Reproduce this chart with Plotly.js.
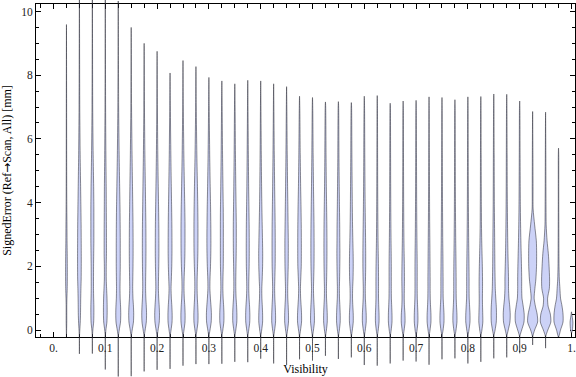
<!DOCTYPE html>
<html><head><meta charset="utf-8">
<script src="https://cdn.plot.ly/plotly-3.0.1.min.js"></script>
<style>html,body{margin:0;padding:0;background:#fff}#chart{width:576px;height:377px}</style>
</head><body><div id="chart"></div>
<script>
// Visibility bin centres
const visibility = [0.025,0.05,0.075,0.1,0.125,0.15,0.175,0.2,0.225,0.25,0.275,0.3,0.325,0.35,0.375,0.4,0.425,0.45,0.475,0.5,0.525,0.55,0.575,0.6,0.625,0.65,0.675,0.7,0.725,0.75,0.775,0.8,0.825,0.85,0.875,0.9,0.925,0.95,0.975,1.0];
// Largest and smallest signed error in each bin [mm]
const errMax = [9.59,10.8,10.8,10.8,10.33,9.5,9.0,8.75,8.07,8.46,8.27,7.93,7.82,7.73,7.84,7.82,7.73,7.64,7.34,7.3,7.16,7.17,7.14,7.34,7.36,7.12,7.19,7.21,7.32,7.3,7.23,7.32,7.33,7.41,7.4,7.19,6.86,6.84,5.71,0.57];
const errMin = [-0.22,-0.75,-0.74,-1.24,-1.46,-1.45,-1.3,-1.25,-1.22,-1.12,-1.07,-1.07,-1.06,-1.0,-1.01,-0.9,-1.05,-1.1,-0.92,-0.96,-0.81,-0.91,-0.86,-1.1,-1.12,-1.05,-0.96,-0.99,-1.09,-0.92,-0.89,-1.05,-1.0,-0.89,-0.86,-0.73,-0.47,-0.57,-0.22,-0.1];
// Density profile levels [mm] and relative density (violin width) at each level
const levels = [-0.2,0,0.25,0.5,0.75,1.0,1.3,1.6,2.0,2.4,2.8,3.3,3.8,4.5,5.5,7.0];
const density = [
 [0.1,0.3,0.6,0.6,0.6,0.9,1.5,1.7,1.7,1.5,1.2,1.0,0.7,0.5,0.4,0.3],
 [0.2,0.8,1.7,2.2,2.4,2.6,3.0,3.5,3.7,3.7,3.6,3.4,3.0,2.4,1.5,0.7],
 [0.2,1.0,2.6,3.0,3.0,2.6,2.3,2.3,2.4,2.7,3.0,3.0,3.0,2.6,1.6,0.7],
 [0.2,1.2,3.2,3.7,3.7,3.4,2.6,1.9,1.9,2.3,2.3,2.2,2.0,1.8,1.2,0.6],
 [0.3,2.0,4.5,5.0,4.6,3.8,3.5,3.7,4.0,4.0,4.0,3.8,3.5,2.8,1.8,0.8],
 [0.3,2.0,4.5,5.0,4.5,3.5,3.0,3.2,3.6,3.8,3.8,3.6,3.2,2.6,1.7,0.7],
 [0.3,2.0,4.3,4.8,4.3,3.4,2.9,3.0,3.4,3.6,3.6,3.4,3.0,2.4,1.5,0.6],
 [0.3,2.0,4.3,4.8,4.2,3.2,2.6,2.8,3.3,3.6,3.6,3.4,3.0,2.3,1.4,0.6],
 [0.3,2.0,4.0,4.2,3.6,2.6,2.0,2.6,3.4,3.8,3.8,3.6,3.2,2.5,1.6,0.6],
 [0.3,2.0,4.0,4.2,3.6,2.6,2.0,2.2,3.2,3.8,4.0,4.0,3.6,2.8,1.7,0.6],
 [0.3,2.0,4.0,4.2,3.6,2.8,2.3,2.4,3.2,3.8,4.0,4.0,3.7,3.0,1.8,0.6],
 [0.3,2.2,4.6,5.0,4.2,3.0,2.0,2.2,3.2,3.8,4.0,3.8,3.4,2.6,1.6,0.6],
 [0.3,2.0,4.0,4.2,3.6,2.6,2.0,2.2,2.8,3.0,3.0,3.0,2.8,2.2,1.4,0.6],
 [0.3,2.0,4.0,4.2,3.6,2.6,2.0,2.0,2.4,2.8,3.0,3.0,2.6,2.0,1.3,0.6],
 [0.3,2.0,4.0,4.2,3.6,2.6,2.0,2.2,2.8,3.0,3.0,2.8,2.4,1.8,1.2,0.5],
 [0.3,2.0,3.8,3.8,3.2,2.4,2.2,3.0,3.8,4.0,3.6,3.0,2.4,1.8,1.2,0.5],
 [0.3,2.0,3.8,3.8,3.2,2.4,2.0,2.4,3.0,3.2,3.2,3.0,2.6,2.0,1.3,0.5],
 [0.3,2.0,3.8,3.8,3.2,2.4,2.2,2.6,3.2,3.4,3.4,3.0,2.6,2.0,1.3,0.5],
 [0.3,2.0,4.0,4.0,3.2,2.2,1.8,2.4,3.4,3.6,3.6,3.4,3.0,2.2,1.4,0.5],
 [0.3,2.0,3.8,3.8,3.2,2.4,2.0,2.4,3.0,3.2,3.2,3.0,2.6,2.0,1.3,0.5],
 [0.3,2.0,3.6,3.6,3.0,2.2,2.0,2.4,2.8,3.0,3.0,2.8,2.4,1.8,1.2,0.5],
 [0.3,2.0,3.6,3.6,3.0,2.2,2.0,2.4,2.8,3.0,2.8,2.6,2.2,1.7,1.1,0.5],
 [0.3,2.0,3.8,3.8,3.0,2.4,2.6,3.4,3.8,3.6,3.0,2.4,2.0,1.6,1.1,0.5],
 [0.3,2.0,3.8,3.8,3.0,2.2,2.0,2.4,2.8,2.8,2.6,2.2,1.8,1.4,1.0,0.5],
 [0.3,2.0,3.6,3.6,3.0,2.6,2.6,2.6,2.4,2.0,1.6,1.3,1.1,0.9,0.7,0.4],
 [0.3,2.0,3.6,3.6,3.0,2.4,2.2,2.2,2.2,2.0,1.7,1.4,1.2,1.0,0.8,0.4],
 [0.3,2.0,3.8,3.6,2.6,2.2,2.4,2.6,2.4,2.0,1.6,1.3,1.1,0.9,0.7,0.4],
 [0.3,2.0,3.6,3.6,3.0,2.4,2.2,2.2,2.2,2.0,1.7,1.4,1.2,1.0,0.8,0.4],
 [0.3,2.0,3.8,3.8,3.0,2.4,2.2,2.2,2.0,1.8,1.6,1.3,1.1,0.9,0.7,0.4],
 [0.3,2.2,4.0,4.0,3.2,2.4,2.2,2.2,2.0,1.8,1.5,1.3,1.1,0.9,0.7,0.4],
 [0.3,2.2,4.0,4.0,3.2,2.6,2.4,2.4,2.2,1.9,1.6,1.3,1.1,0.9,0.7,0.4],
 [0.3,2.2,4.2,4.2,3.4,2.6,2.4,2.4,2.2,1.9,1.6,1.3,1.1,0.9,0.7,0.4],
 [0.3,2.2,4.0,3.8,3.4,3.2,3.4,3.4,3.0,2.4,1.8,1.3,1.1,0.9,0.7,0.4],
 [0.3,2.6,5.0,5.4,5.0,4.0,3.0,2.6,2.2,2.0,1.8,1.5,1.2,1.0,0.8,0.4],
 [0.3,3.0,6.4,7.0,6.0,4.4,3.6,3.6,3.0,2.4,2.0,1.6,1.3,1.0,0.8,0.4],
 [0.4,4.0,8.6,9.0,7.0,4.6,4.0,4.0,3.6,3.0,2.4,1.8,1.4,1.1,0.8,0.4],
 [0.4,4.0,10.0,9.0,5.5,3.0,4.5,6.5,7.8,8.0,7.4,4.0,1.0,0.8,0.6,0.4],
 [0.4,4.5,10.5,9.5,5.0,4.0,7.5,8.0,7.0,5.5,3.0,1.2,0.9,0.7,0.5,0.4],
 [0.3,4.0,9.0,9.0,7.0,4.0,2.8,1.6,1.0,0.8,0.7,0.6,0.5,0.5,0.4,0.3],
 [0,1.8,2.8,0.6,0,0,0,0,0,0,0,0,0,0,0,0]
];
const xTickVals = [0,0.1,0.2,0.3,0.4,0.5,0.6,0.7,0.8,0.9,1.0];
const xTickText = ['0.','0.1','0.2','0.3','0.4','0.5','0.6','0.7','0.8','0.9','1.'];
const yTickVals = [0,2,4,6,8,10];

const W = 576, H = 377;
const M = {l:36, r:1, t:0, b:0};
const xRange = [-0.0338, 1.0068];
const yDataRange = [-1.4757, 10.3611];
const yFrameRange = [-0.2198, 10.2355];
const xPerPx = (xRange[1]-xRange[0])/(W-M.l-M.r);

const traces = [{type:'scatter', mode:'lines', x:[], y:[], xaxis:'x', yaxis:'y', hoverinfo:'skip', showlegend:false}];
visibility.forEach((c,i)=>{
  const pts = [{v:errMin[i], w:0}];
  levels.forEach((lv,j)=>{ if (lv > errMin[i]+0.02 && lv < errMax[i]-0.05) pts.push({v:lv, w:density[i][j]}); });
  pts.push({v:errMax[i], w:0});
  const xs = [], ys = [];
  pts.forEach(p=>{ xs.push(c + p.w/2*xPerPx); ys.push(p.v); });
  for (let k = pts.length-2; k >= 0; k--) { xs.push(c - pts[k].w/2*xPerPx); ys.push(pts[k].v); }
  traces.push({type:'scatter', mode:'lines', x:xs, y:ys, xaxis:'x2', yaxis:'y2',
    fill:'toself', fillcolor:'rgb(204,210,247)',
    line:{color:'rgba(30,30,40,0.5)', width:1, shape:'spline', smoothing:0.7},
    hoverinfo:'skip', showlegend:false});
});

const font = '"Liberation Serif", "Times New Roman", "DejaVu Serif", serif';
const layout = {
  width:W, height:H, margin:{l:M.l, r:M.r, t:M.t, b:M.b, pad:0},
  paper_bgcolor:'#ffffff', plot_bgcolor:'rgba(0,0,0,0)', showlegend:false,
  font:{family:font, size:12, color:'#000'},
  xaxis:{domain:[0,1], range:xRange, anchor:'y', tickmode:'array', tickvals:xTickVals, ticktext:xTickText,
    ticks:'inside', ticklen:5, tickwidth:1, tickcolor:'#000', showline:true, linecolor:'#000', linewidth:1,
    mirror:'ticks', showgrid:false, zeroline:false, tickfont:{family:font, size:11.5, color:'#222'},
    minor:{tickmode:'linear', tick0:0, dtick:0.025, ticks:'inside', ticklen:3.5, tickcolor:'#000', showgrid:false},
    title:{text:'Visibility', font:{family:font, size:12, color:'#000'}, standoff:11}},
  yaxis:{domain:[40/377, 373/377], range:yFrameRange, anchor:'x', tickmode:'array', tickvals:yTickVals,
    ticks:'inside', ticklen:5, tickwidth:1, tickcolor:'#000', showline:true, linecolor:'#000', linewidth:1,
    mirror:'ticks', showgrid:false, zeroline:false, tickfont:{family:font, size:11.5, color:'#222'},
    minor:{tickmode:'linear', tick0:0, dtick:0.5, ticks:'inside', ticklen:3, tickcolor:'#000', showgrid:false},
    title:{text:'SignedError (Ref<span style="font-family:\'DejaVu Sans\'">\u2192</span>Scan, All) [mm]', font:{family:font, size:12, color:'#000'}, standoff:8}},
  xaxis2:{domain:[0,1], range:xRange, anchor:'y2', visible:false, fixedrange:true},
  yaxis2:{domain:[0,1], range:yDataRange, anchor:'x2', visible:false, fixedrange:true}
};
Plotly.newPlot('chart', traces, layout, {staticPlot:true, displayModeBar:false});
</script></body></html>
